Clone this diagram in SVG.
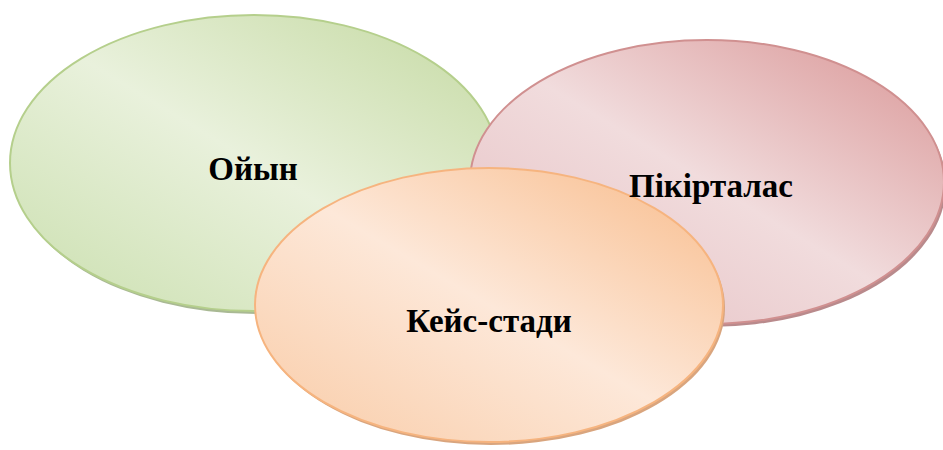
<svg xmlns="http://www.w3.org/2000/svg" width="943" height="450" viewBox="0 0 943 450">
<defs>
<linearGradient id="gGreen" x1="1" y1="0" x2="0" y2="1">
<stop offset="0" stop-color="#c4d9a1"/>
<stop offset="0.5" stop-color="#e9f1dc"/>
<stop offset="1" stop-color="#cadfae"/>
</linearGradient>
<linearGradient id="gPink" x1="1" y1="0" x2="0" y2="1">
<stop offset="0" stop-color="#d99595"/>
<stop offset="0.5" stop-color="#f1dcdd"/>
<stop offset="1" stop-color="#e4bdc0"/>
</linearGradient>
<linearGradient id="gOrange" x1="1" y1="0" x2="0" y2="1">
<stop offset="0" stop-color="#f8bb8a"/>
<stop offset="0.5" stop-color="#fde8d9"/>
<stop offset="1" stop-color="#f9cba6"/>
</linearGradient>
<style>
.lbl{font-family:"Liberation Serif","Times New Roman",serif;font-weight:bold;font-size:33px;fill:#000;text-anchor:middle}
.sh-g{fill:#a9b994}
.sh-p{fill:#b98a8c}
.sh-o{fill:#d9a57e}
</style>
</defs>
<g id="node-oiyn">
<ellipse class="sh-g" cx="256" cy="166" rx="244" ry="148"/>
<ellipse cx="254" cy="163" rx="244" ry="148" fill="url(#gGreen)" stroke="#b5cf8c" stroke-width="2"/>
<text class="lbl" x="253" y="180">Ойын</text>
</g>
<g id="node-pikirtalas">
<ellipse class="sh-p" cx="709" cy="185" rx="237" ry="142"/>
<ellipse cx="707" cy="182" rx="237" ry="142" fill="url(#gPink)" stroke="#d09090" stroke-width="2"/>
</g>
<g id="node-keis-stadi">
<ellipse class="sh-o" cx="491" cy="308" rx="234" ry="137"/>
<ellipse cx="489" cy="305" rx="234" ry="137" fill="url(#gOrange)" stroke="#f6b47f" stroke-width="2"/>
<text class="lbl" x="489" y="332">Кейс-стади</text>
</g>
<g id="node-pikirtalas-label">
<text class="lbl" x="711" y="197">Пікірталас</text>
</g>
<g id="connectors"/>
</svg>
